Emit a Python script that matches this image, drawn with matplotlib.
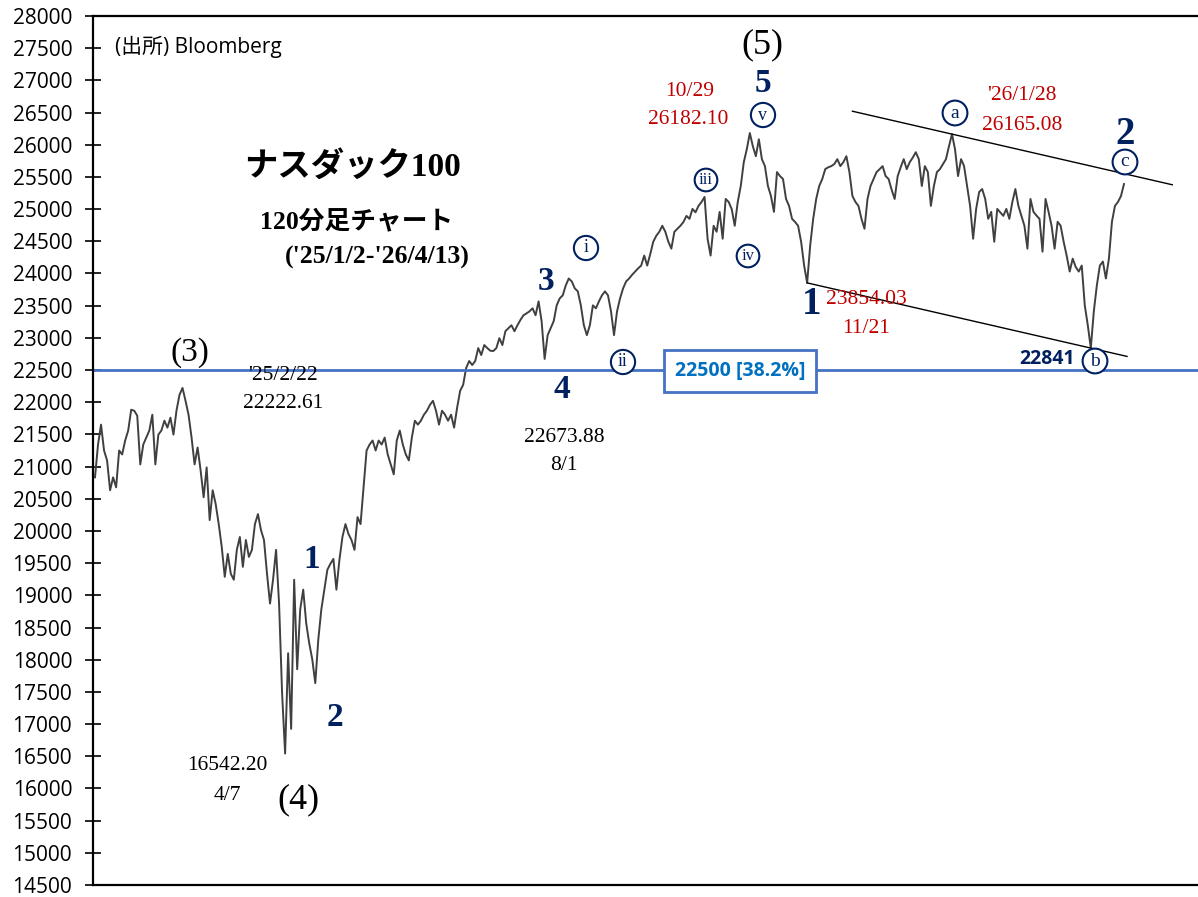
import numpy as np
import matplotlib
matplotlib.use("Agg")
import matplotlib.pyplot as plt

# ナスダック100 120分足 ('25/1/2-'26/4/13)
seg_jan_apr = [20833, 21343, 21652, 21250, 21096, 20632, 20833, 20678, 21250, 21189,
               21405, 21560, 21884, 21868, 21791, 21034, 21343, 21451, 21560, 21806,
               21034, 21497, 21560, 21713, 21605, 21760, 21497, 21868, 22115, 22222,
               22022, 21806, 21451, 21034, 21297, 20941, 20524, 20987, 20169, 20632,
               20416, 20107, 19752, 19288, 19644, 19335, 19242, 19706, 19907, 19443,
               19860, 19597, 19706, 20107, 20262, 20014, 19860, 19335, 18872, 19242]
seg_apr_jul = [19706, 18872, 17482, 16542, 18100, 16925, 19242, 17852, 18779, 19088,
               18563, 18254, 18006, 17636, 18315, 18779, 19088, 19397, 19489, 19566,
               19088, 19551, 19907, 20107, 19953, 19860, 19706, 20215, 20107, 20678,
               21250, 21343, 21405, 21250, 21405, 21343, 21451, 21189, 21034, 20880,
               21405, 21560, 21343, 21189, 21096, 21451, 21713, 21652, 21713, 21806,
               21868, 21960, 22022, 21868, 21652, 21868, 21806, 21713, 21806, 21605,
               21914, 22177, 22270]
seg_jul_sep = [22532, 22640, 22578, 22640, 22841, 22733, 22888, 22841, 22800, 22795,
               22841, 22995, 22888, 23103, 23150, 23196, 23103, 23196, 23280, 23351,
               23380, 23412, 23459, 23351, 23567, 23258, 22673, 23042, 23150, 23258,
               23505, 23613, 23660, 23814, 23922, 23876, 23768, 23722, 23505, 23196,
               23042, 23196, 23505, 23459, 23567, 23660, 23722, 23660, 23412, 23042,
               23412, 23613, 23768, 23876, 23922, 23980, 24030, 24080, 24123, 24278,
               24123, 24300, 24493, 24586, 24648]
seg_sep_dec = [24741, 24648, 24493, 24386, 24648, 24695, 24741, 24800, 24895, 24849,
               25003, 24950, 25050, 25111, 25189, 24540, 24278, 24741, 24648, 24957,
               24540, 25158, 25111, 25000, 24741, 25111, 25359, 25729, 25930, 26182,
               25977, 25822, 26085, 25776, 25668, 25359, 25204, 24957, 25575, 25513,
               25467, 25158, 25050, 24849, 24800, 24741, 24493, 24123, 23854, 24432,
               24849, 25158, 25359, 25467, 25621, 25650, 25668, 25700, 25776, 25668,
               25729, 25822, 25575, 25204, 25111, 25050, 24850, 24695, 25158, 25359]
seg_dec_apr = [25467, 25575, 25620, 25668, 25513, 25467, 25300, 25158, 25513, 25650,
               25776, 25621, 25729, 25800, 25884, 25776, 25359, 25668, 25575, 25050,
               25359, 25575, 25621, 25700, 25776, 25977, 26165, 25930, 25513, 25776,
               25668, 25359, 25050, 24540, 25003, 25266, 25312, 25158, 24849, 24957,
               24493, 25003, 24950, 24895, 25003, 24849, 25111, 25312, 25050, 24895,
               24741, 24386, 25158, 24957, 24900, 24849, 24339, 25158, 24957, 24741,
               24386, 24803, 24741, 24493, 24278, 24030, 24231, 24100, 24030, 24123,
               23505, 23196, 22841, 23412, 23814, 24123, 24185, 23922, 24231, 24803,
               25050, 25111, 25204, 25390]

fib_level = 22500
low_nov = 23854
low_b = 22841
high_a = 26165

prices = np.array(seg_jan_apr + seg_apr_jul + seg_jul_sep + seg_sep_dec + seg_dec_apr, dtype=float)
n = len(prices)
x = np.arange(n)

W, H = 1198, 897
navy = '#002060'
red = '#C00000'
serif = ['Liberation Serif', 'Noto Sans CJK JP']
sans = ['Open Sans', 'Noto Sans CJK JP']

fig = plt.figure(figsize=(W / 100, H / 100), dpi=100)
ax = fig.add_axes([93 / W, 1 - 885 / H, (1198 - 93) / W, (885 - 16) / H])

ax.plot(x, prices, color='#404040', lw=1.4)

# x range: data spans px 95..1124 of axes 93..1198
s = (1124 - 95) / (n - 1)
ax.set_xlim(-(95 - 93) / s, (n - 1) + (1198 - 1124) / s)
ax.set_ylim(14500, 28000)
ax.set_yticks(np.arange(14500, 28001, 500))
ax.set_xticks([])
ax.tick_params(axis='y', direction='inout', length=12, width=1.2, labelsize=15, pad=9)
for lab in ax.get_yticklabels():
    lab.set_family(sans)
ax.spines['right'].set_visible(False)
for sp in ['left', 'top', 'bottom']:
    ax.spines[sp].set_linewidth(1.6)

ax.axhline(fib_level, color='#4472C4', lw=2)

# channel lines (lower through the two lows, upper parallel through a)
i_low = int(np.where(prices == low_nov)[0][-1])
i_b = int(np.where(prices == low_b)[0][-1])
i_a = int(np.where(prices == high_a)[0][-1])
slope = (low_b - low_nov) / (i_b - i_low)
xl = np.array([i_low, i_b + 12])
ax.plot(xl, low_nov + slope * (xl - i_low), color='black', lw=1)
xu = np.array([i_a - 33, i_a + 73])
ax.plot(xu, high_a + slope * (xu - i_a), color='black', lw=1)


def put(px, py, txt, **kw):
    kw.setdefault('ha', 'center')
    kw.setdefault('va', 'center')
    fig.text(px / W, 1 - py / H, txt, **kw)


def circ(px, py, txt, size=13):
    put(px, py, txt, color=navy, fontsize=size, family=serif,
        bbox=dict(boxstyle='circle,pad=0.2', fc='white', ec=navy, lw=1.5))


put(115, 47, '(出所) Bloomberg', ha='left', fontsize=15, family=sans)
put(352, 167, 'ナスダック100', fontsize=24, fontweight='bold', family=serif)
put(357, 221, '120分足チャート', fontsize=18.5, fontweight='bold', family=serif)
put(377, 257, "('25/1/2-'26/4/13)", fontsize=18.5, fontweight='bold', family=serif)

put(190, 353, '(3)', fontsize=24, family=serif)
put(298, 800, '(4)', fontsize=26, family=serif)
put(762, 45, '(5)', fontsize=26, family=serif)

put(283, 375, "'25/2/22", fontsize=15.5, family=serif)
put(283, 403, '22222.61', fontsize=15.5, family=serif)
put(564, 437, '22673.88', fontsize=15.5, family=serif)
put(564, 465, '8/1', fontsize=15.5, family=serif)
put(227, 765, '16542.20', fontsize=15.5, family=serif)
put(227, 795, '4/7', fontsize=15.5, family=serif)

put(690, 92, '10/29', fontsize=15.5, color=red, family=serif)
put(688, 119, '26182.10', fontsize=15.5, color=red, family=serif)
put(1022, 96, "'26/1/28", fontsize=15.5, color=red, family=serif)
put(1022, 126, '26165.08', fontsize=15.5, color=red, family=serif)
put(866, 300, '23854.03', fontsize=15.5, color=red, family=serif)
put(866, 328, '11/21', fontsize=15.5, color=red, family=serif)

put(1047, 359, '22841', fontsize=14, fontweight='bold', color=navy, family=sans)
put(740, 371, '22500 [38.2%]', fontsize=14, fontweight='bold', color='#0070C0', family=sans,
    bbox=dict(boxstyle='square,pad=0.55', fc='white', ec='#4472C4', lw=2))

for px, py, t, fs in [(312, 560, '1', 24), (335, 717, '2', 24), (546, 281, '3', 24),
                      (562, 390, '4', 24), (763, 84, '5', 24), (812, 305, '1', 28),
                      (1125, 135, '2', 28)]:
    put(px, py, t, fontsize=fs, fontweight='bold', color=navy, family=serif)

circ(586, 248, 'i')
circ(623, 362, 'ii')
circ(706, 180, 'iii', size=12)
circ(748, 256, 'iv', size=12)
circ(763, 115, 'v')
circ(955, 113, 'a', size=14)
circ(1095, 361, 'b', size=14)
circ(1125, 162, 'c', size=14)

fig.savefig('out.png', dpi=100)
